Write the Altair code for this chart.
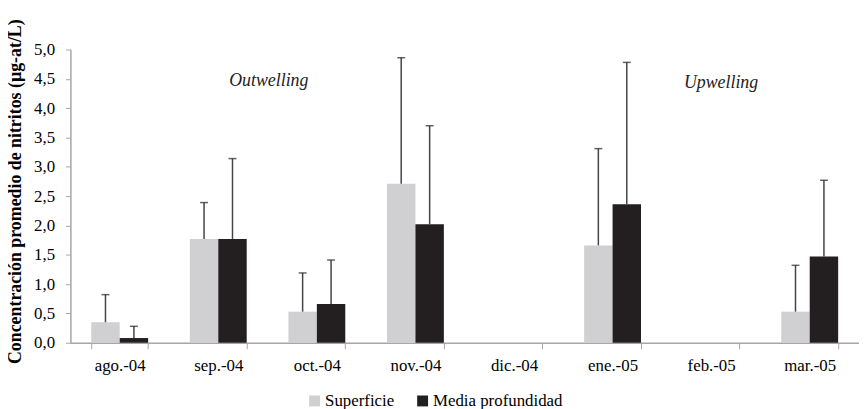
import altair as alt
import pandas as pd

months = ["ago.-04", "sep.-04", "oct.-04", "nov.-04", "dic.-04", "ene.-05", "feb.-05", "mar.-05"]
series = ["Superficie", "Media profundidad"]
sup_mean = [0.35, 1.77, 0.53, 2.71, None, 1.66, None, 0.53]
sup_sd = [0.47, 0.62, 0.66, 2.15, None, 1.65, None, 0.79]
med_mean = [0.08, 1.77, 0.66, 2.02, None, 2.36, None, 1.47]
med_sd = [0.20, 1.37, 0.75, 1.68, None, 2.42, None, 1.30]
y_ticks = [0.0, 0.5, 1.0, 1.5, 2.0, 2.5, 3.0, 3.5, 4.0, 4.5, 5.0]

notes = ["Outwelling", "Upwelling"]
note_month = ["sep.-04", "feb.-05"]
note_y = [4.47, 4.42]
note_dx = [51, 10]

rows = []
for m, a, sa, b, sb in zip(months, sup_mean, sup_sd, med_mean, med_sd):
    if a is not None:
        rows.append({"mes": m, "serie": series[0], "valor": a, "sd": sa})
    if b is not None:
        rows.append({"mes": m, "serie": series[1], "valor": b, "sd": sb})
df = pd.DataFrame(rows)
df["sup"] = df["valor"] + df["sd"]

font = "Liberation Serif"
ytitle = "Concentración promedio de nitritos (µg-at/L)"

xscale = alt.Scale(domain=months, paddingInner=0.423, paddingOuter=0.2115)
xaxis = alt.Axis(title=None, tickBand="extent", labelFontSize=17, labelFont=font,
                 labelColor="#000", labelPadding=9, labelAngle=0,
                 domainColor="#A6A6A6", tickColor="#A6A6A6", tickSize=6, domainWidth=1.5)
yscale = alt.Scale(domain=[0, 5], nice=False, zero=True)
yaxis = alt.Axis(title=ytitle, values=y_ticks,
                 labelExpr="replace(format(datum.value, '.1f'), '.', ',')", labelOverlap=False,
                 labelFontSize=17, labelFont=font, labelColor="#000", labelPadding=11,
                 titleFont=font, titleFontSize=18, titleFontWeight="bold", titleColor="#000",
                 titlePadding=9, titleY=143, grid=False,
                 domainColor="#A6A6A6", tickColor="#A6A6A6", tickSize=5, domainWidth=1.5)

def X():
    return alt.X("mes:N", sort=months, scale=xscale, axis=xaxis)

def Y(field):
    return alt.Y(field, scale=yscale, axis=yaxis)

xo = alt.XOffset("serie:N", sort=series, scale=alt.Scale(domain=series, paddingInner=0, paddingOuter=0))

base = alt.Chart(df)

bars = base.mark_bar().encode(
    x=X(), xOffset=xo, y=Y("valor:Q"),
    color=alt.Color("serie:N", sort=series,
                    scale=alt.Scale(domain=series, range=["#D0D0D2", "#231F20"]),
                    legend=alt.Legend(title=None, orient="none", legendX=238, legendY=346, direction="horizontal",
                                      symbolType="square", symbolSize=121, symbolStrokeWidth=0,
                                      labelFont=font, labelFontSize=17, labelColor="#000",
                                      labelOffset=2, columnPadding=20, padding=0)),
)

rules = base.mark_rule(color="#444", strokeWidth=1.5).encode(
    x=X(), xOffset=xo, y=Y("valor:Q"), y2="sup:Q")

caps = base.mark_tick(color="#222", thickness=1.5, size=8).encode(
    x=X(), xOffset=xo, y=Y("sup:Q"))

ndf = pd.DataFrame({"t": notes, "mes": note_month, "y": note_y})
t1 = alt.Chart(ndf.iloc[[0]]).mark_text(font=font, fontSize=18, fontStyle="italic", color="#222", dx=note_dx[0]).encode(
    x=X(), y=Y("y:Q"), text="t:N")
t2 = alt.Chart(ndf.iloc[[1]]).mark_text(font=font, fontSize=18, fontStyle="italic", color="#222", dx=note_dx[1]).encode(
    x=X(), y=Y("y:Q"), text="t:N")

chart = alt.layer(bars, rules, caps, t1, t2).properties(
    width=796, height=296,
    autosize=alt.AutoSizeParams(type="none"),
    padding={"left": 63, "top": 40, "right": 0, "bottom": 65},
    background="white",
).configure_view(stroke=None)

chart.save("out.html", embed_options={"renderer": "svg", "actions": False})
